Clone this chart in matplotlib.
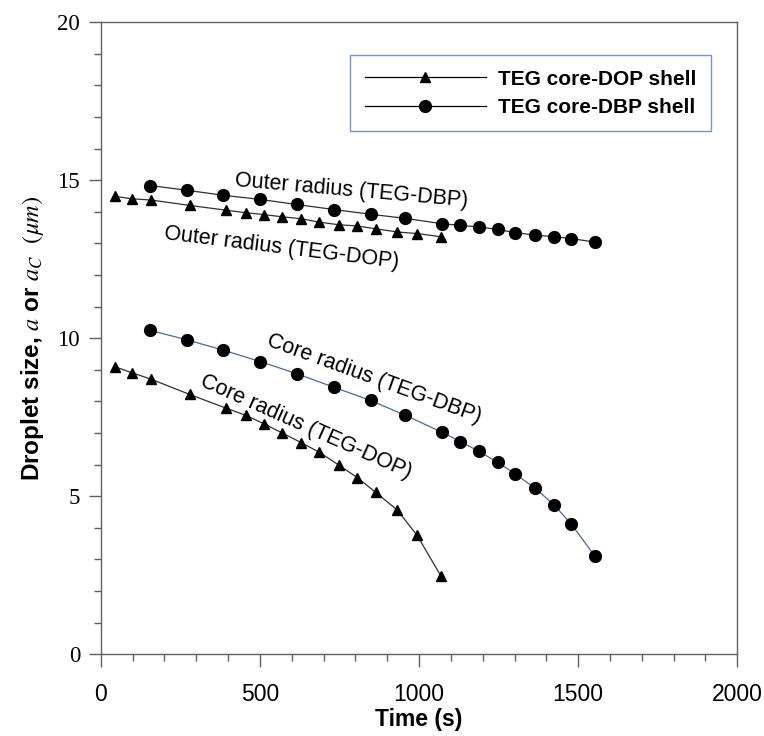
import matplotlib
matplotlib.use("Agg")
from matplotlib import pyplot as plt

# TEG core - DOP shell (triangles)
time_dop = [43, 97, 159, 279, 393, 455, 513, 570, 629, 687, 747, 806, 864, 932, 994, 1068]
outer_dop = [14.49, 14.41, 14.37, 14.20, 14.05, 13.97, 13.91, 13.84, 13.78, 13.67,
             13.59, 13.55, 13.46, 13.36, 13.31, 13.21]
core_dop = [9.10, 8.91, 8.70, 8.22, 7.79, 7.56, 7.29, 7.00, 6.70, 6.39,
            5.99, 5.59, 5.12, 4.56, 3.76, 2.49]

# TEG core - DBP shell (circles)
time_dbp = [154, 270, 385, 501, 615, 732, 848, 957, 1073, 1130, 1188, 1247, 1302,
            1365, 1425, 1479, 1553]
outer_dbp = [14.83, 14.68, 14.52, 14.39, 14.23, 14.07, 13.92, 13.79, 13.62, 13.57,
             13.52, 13.44, 13.34, 13.26, 13.21, 13.15, 13.04]
core_dbp = [10.25, 9.95, 9.62, 9.26, 8.88, 8.45, 8.03, 7.56, 7.02, 6.73, 6.42,
            6.07, 5.71, 5.25, 4.72, 4.11, 3.10]

legend_labels = ["TEG core-DOP shell", "TEG core-DBP shell"]
annotations = [
    ("Outer radius (TEG-DBP)", 787, 14.66, -5),
    ("Outer radius (TEG-DOP)", 567, 12.86, -7),
    ("Core radius (TEG-DBP)", 860, 8.70, -20),
    ("Core radius (TEG-DOP)", 644, 7.18, -24),
]


def main():
    plt.rcParams["mathtext.fontset"] = "stix"
    plt.rcParams["font.family"] = ["Liberation Sans", "DejaVu Sans"]

    fig = plt.figure(figsize=(7.64, 7.36), dpi=100)
    ax = fig.add_axes([0.132, 0.111, 0.833, 0.859])

    grey = "#606060"
    ax.plot(time_dop, outer_dop, color="#303030", lw=0.9, marker="^", ms=7.5,
            mfc="black", mec="black", label=legend_labels[0])
    ax.plot(time_dop, core_dop, color="#303030", lw=0.9, marker="^", ms=7.5,
            mfc="black", mec="black")
    ax.plot(time_dbp, outer_dbp, color="#303030", lw=0.9, marker="o", ms=8.5,
            mfc="black", mec="black", label=legend_labels[1])
    ax.plot(time_dbp, core_dbp, color="#4a6a9a", lw=0.9, marker="o", ms=8.5,
            mfc="black", mec="black")

    for text, x, y, rot in annotations:
        ax.text(x, y, text, rotation=rot, rotation_mode="anchor",
                ha="center", va="center", fontsize=15.5)

    ax.set_xlim(0, 2000)
    ax.set_ylim(0, 20)
    ax.set_xticks([0, 500, 1000, 1500, 2000])
    ax.set_xticks(range(0, 2001, 100), minor=True)
    ax.set_yticks([0, 5, 10, 15, 20])
    ax.set_yticks(range(0, 21), minor=True)

    for spine in ax.spines.values():
        spine.set_color(grey)
        spine.set_linewidth(1.0)
    ax.tick_params(which="major", length=9, width=1.0, color=grey, direction="out")
    ax.tick_params(which="minor", length=5, width=1.0, color=grey, direction="out")
    ax.tick_params(axis="x", labelsize=16.5, pad=12)
    ax.tick_params(axis="y", labelsize=16.5, pad=6)
    for lab in ax.get_yticklabels():
        lab.set_family("Liberation Serif")

    ax.set_xlabel("Time (s)", fontsize=16.5, fontweight="bold", labelpad=1)
    ax.set_ylabel(r"Droplet size, $a$ or $a_C$ $\ (\mu m)$", fontsize=17.5,
                  fontweight="bold", labelpad=8)

    leg = ax.legend(loc="upper left", bbox_to_anchor=(0.392, 0.948),
                    borderaxespad=0, prop={"weight": "bold", "size": 15},
                    handlelength=5.8, handletextpad=0.6, numpoints=1,
                    fancybox=False, labelspacing=0.45, borderpad=0.7)
    leg.get_frame().set_edgecolor("#4f7fbf")
    leg.get_frame().set_linewidth(1.0)
    for line in leg.get_lines():
        line.set_color("black")

    fig.savefig("out.png", dpi=100)


if __name__ == "__main__":
    main()
